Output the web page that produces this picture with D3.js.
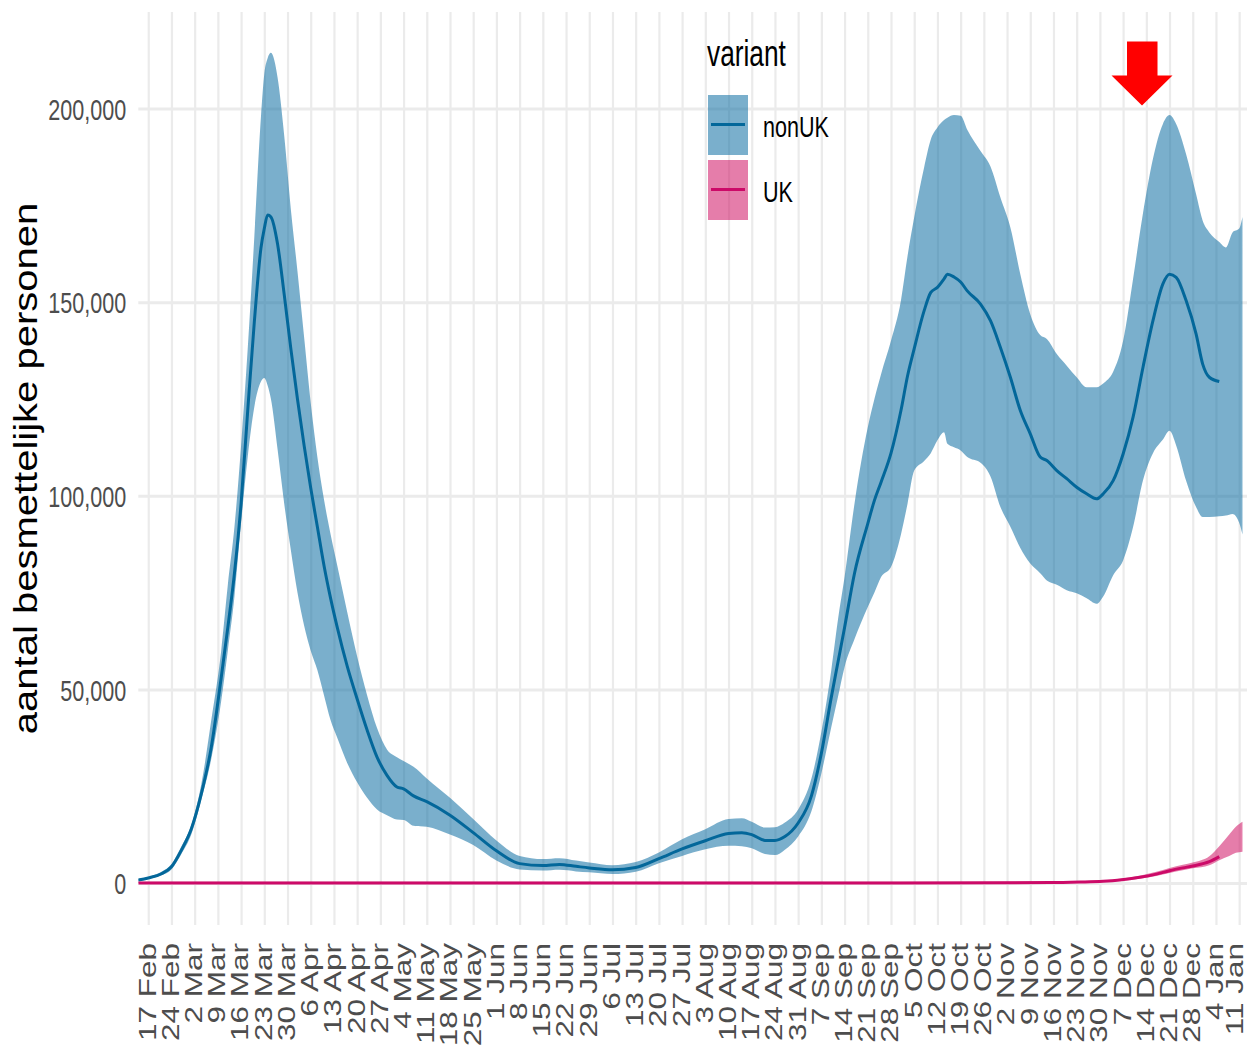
<!DOCTYPE html>
<html>
<head>
<meta charset="utf-8">
<script src="https://cdn.jsdelivr.net/npm/d3@7"></script>
<style>
    body { margin: 0; background: #fff; }
    svg { display: block; font-family: "Liberation Sans", Arial, sans-serif; }
</style>
</head>
<body>
<div id="chart"></div>
<script>
// nonUK variant: estimate (median) and band
let nonUKDates = ['2020-02-14', '2020-02-17', '2020-02-21', '2020-02-24', '2020-02-27', '2020-03-01', '2020-03-04',
    '2020-03-07', '2020-03-10', '2020-03-12', '2020-03-14', '2020-03-16', '2020-03-18', '2020-03-20', '2020-03-22',
    '2020-03-23', '2020-03-24', '2020-03-25', '2020-03-27', '2020-03-29', '2020-03-31', '2020-04-02', '2020-04-04',
    '2020-04-06', '2020-04-08', '2020-04-10', '2020-04-12', '2020-04-14', '2020-04-17', '2020-04-20', '2020-04-23',
    '2020-04-26', '2020-04-29', '2020-05-02', '2020-05-04', '2020-05-07', '2020-05-11', '2020-05-18', '2020-05-25',
    '2020-06-01', '2020-06-08', '2020-06-15', '2020-06-20', '2020-06-25', '2020-06-29', '2020-07-06', '2020-07-13',
    '2020-07-20', '2020-07-27', '2020-08-03', '2020-08-10', '2020-08-14', '2020-08-17', '2020-08-21', '2020-08-24',
    '2020-08-27', '2020-08-31', '2020-09-04', '2020-09-07', '2020-09-10', '2020-09-12', '2020-09-14', '2020-09-17',
    '2020-09-21', '2020-09-23', '2020-09-25', '2020-09-28', '2020-10-01', '2020-10-03', '2020-10-05', '2020-10-08',
    '2020-10-10', '2020-10-12', '2020-10-14', '2020-10-15', '2020-10-17', '2020-10-19', '2020-10-21', '2020-10-25',
    '2020-10-28', '2020-10-31', '2020-11-03', '2020-11-06', '2020-11-09', '2020-11-12', '2020-11-14', '2020-11-17',
    '2020-11-20', '2020-11-23', '2020-11-26', '2020-11-29', '2020-12-01', '2020-12-04', '2020-12-07', '2020-12-10',
    '2020-12-13', '2020-12-16', '2020-12-19', '2020-12-21', '2020-12-23', '2020-12-26', '2020-12-29', '2020-12-31',
    '2021-01-02', '2021-01-05', '2021-01-07', '2021-01-09', '2021-01-11', '2021-01-12'];
let nonUKMid = [750, 1300, 2400, 4200, 8500, 14000, 23000,
    35000, 53000, 66000, 80000, 98000, 122000, 145000, 164000,
    169000, 172500, 172000, 165000, 152000, 138000, 125000, 113000,
    102000, 92000, 82000, 73500, 66000, 56000, 47500, 39500,
    32500, 27800, 24800, 24300, 22500, 21000, 17500, 13000,
    8300, 5000, 4500, 4800, 4300, 3900, 3400, 4000,
    6300, 8800, 10900, 12800, 13000, 12500, 11000, 11000,
    12000, 15500, 22500, 33500, 48000, 57000, 66000, 80000,
    92800, 98800, 103500, 111000, 122000, 131000, 138000, 147800,
    152500, 153800, 156000, 157200, 156500, 155200, 152900, 149500,
    145200, 138300, 130600, 122000, 116000, 110000, 109100, 106500,
    104400, 102200, 100500, 99200, 100500, 103900, 110800, 120300,
    133200, 145200, 154700, 157200, 156400, 150400, 141800, 134000,
    130600, 129500, null, null, null, null];
let nonUKLow = [460, 1020, 2000, 3500, 7500, 12600, 21500,
    32000, 47000, 60000, 74000, 93000, 110000, 123000, 129500,
    130400, 128500, 125000, 112000, 98000, 86000, 75000, 66500,
    60000, 55000, 48500, 42000, 37500, 31000, 26000, 22000,
    19000, 17500, 16400, 16300, 14800, 14500, 12500, 9800,
    5800, 3500, 3200, 3400, 3000, 2750, 2300, 2900,
    5100, 7000, 8700, 9600, 9500, 9000, 7500, 7200,
    8600, 12000, 18500, 28300, 40300, 48000, 55800, 63000,
    71300, 75000, 79000, 81600, 90000, 98000, 106500, 109000,
    111000, 114300, 116400, 113400, 112500, 111700, 110000, 108500,
    105000, 97100, 92000, 86500, 82500, 80000, 78100, 77000,
    75600, 74800, 73500, 72100, 74000, 79500, 83300, 91900,
    104000, 111000, 114500, 116800, 113000, 103900, 97100, 94500,
    94500, 94700, 94900, 95300, 93000, 90000];
let nonUKHigh = [1030, 1580, 2900, 4900, 9500, 15000, 25500,
    42000, 60000, 77000, 92000, 113000, 138000, 167000, 198000,
    209000, 213000, 214400, 208000, 193000, 174000, 158000, 141000,
    124000, 110000, 99000, 90000, 82000, 70000, 58500, 48500,
    40000, 34500, 32500, 31500, 30000, 27000, 22000, 16500,
    11000, 7000, 6200, 6400, 5800, 5300, 4600, 5400,
    7900, 11300, 13900, 16500, 16700, 15800, 14300, 14400,
    15600, 19000, 27000, 39000, 55000, 68000, 79000, 98000,
    117700, 125000, 131400, 140000, 150400, 162000, 171900, 184800,
    192000, 195100, 197000, 197600, 198300, 198100, 194500, 189000,
    185000, 177000, 169300, 157200, 146900, 141500, 140500, 136600,
    133600, 130600, 128000, 128000, 129000, 132000, 140000, 156000,
    173000, 187000, 196000, 198300, 196000, 188200, 177900, 171000,
    168000, 165500, 164100, 168000, 169000, 172000];

// UK variant
let ukDates = ['2020-02-14', '2020-06-01', '2020-10-01', '2020-11-15', '2020-11-24', '2020-12-01', '2020-12-06',
    '2020-12-12', '2020-12-17', '2020-12-21', '2020-12-25', '2020-12-28', '2021-01-02', '2021-01-05', '2021-01-08',
    '2021-01-10', '2021-01-12'];
let ukMid = [0, 0, 0, 100, 250, 450, 770, 1460, 2300, 3170, 3900, 4400, 5500, 6800, null, null, null];
let ukLow = [0, 0, 0, 50, 150, 300, 550, 1100, 1800, 2600, 3300, 3800, 4600, 5900, 7000, 7800, 8100];
let ukHigh = [300, 300, 300, 400, 500, 700, 1100, 1900, 2900, 3900, 4700, 5300, 6900, 9500, 12500, 14500, 15800];

let yTicks = [0, 50000, 100000, 150000, 200000];
let weekStart = '2020-02-17', weekEnd = '2021-01-11';
let variants = ['nonUK', 'UK'];
let yTitle = 'aantal besmettelijke personen';
let legendTitle = 'variant';

let parse = d3.timeParse('%Y-%m-%d');
let colors = {nonUK: {fill: '#0d6ea2', line: '#03679a'}, UK: {fill: '#d01364', line: '#cc0a68'}};
let bandOpacity = 0.55;

function series(dates, mid, low, high) {
    return dates.map((d, i) => ({date: parse(d), mid: mid[i], low: low[i], high: high[i]}));
}
let data = {
    nonUK: series(nonUKDates, nonUKMid, nonUKLow, nonUKHigh),
    UK: series(ukDates, ukMid, ukLow, ukHigh)
};

let width = 1247, height = 1049;
let panel = {left: 138.3, right: 1247, top: 12, bottom: 925};

let svg = d3.select('#chart').append('svg')
    .attr('width', width)
    .attr('height', height);

let x = d3.scaleTime()
    .domain([parse('2020-02-14'), parse('2021-01-13')])
    .range([panel.left, 1245.8]);
let y = d3.scaleLinear()
    .domain([0, 200000])
    .range([883, 108.5]);

// weekly ticks, on Mondays
let weeks = d3.timeMonday.range(parse(weekStart), d3.timeDay.offset(parse(weekEnd), 1));

svg.append('clipPath').attr('id', 'panel-clip')
    .append('rect')
    .attr('x', panel.left).attr('y', panel.top)
    .attr('width', panel.right - panel.left).attr('height', panel.bottom - panel.top);

// grid lines
let gridY = svg.append('g')
    .attr('transform', `translate(${panel.left}, 0)`)
    .call(d3.axisRight(y).tickValues(yTicks).tickSize(panel.right - panel.left).tickFormat(''));
let gridX = svg.append('g')
    .attr('transform', `translate(0, ${panel.bottom})`)
    .call(d3.axisBottom(x).tickValues(weeks).tickSize(-(panel.bottom - panel.top)).tickFormat(''));
[gridX, gridY].forEach(g => {
    g.select('.domain').remove();
    g.selectAll('line').attr('stroke', '#ebebeb');
});
gridY.selectAll('line').attr('stroke-width', 3);
gridX.selectAll('line').attr('stroke-width', 2.2);

// bands and lines
let plot = svg.append('g').attr('clip-path', 'url(#panel-clip)');
let band = d3.area()
    .curve(d3.curveMonotoneX)
    .x(d => x(d.date))
    .y0(d => y(d.low))
    .y1(d => y(d.high));
let line = d3.line()
    .curve(d3.curveMonotoneX)
    .x(d => x(d.date))
    .y(d => y(d.mid));

variants.forEach(v => {
    plot.append('path')
        .attr('d', band(data[v]))
        .attr('fill', colors[v].fill)
        .attr('fill-opacity', bandOpacity);
});
variants.forEach(v => {
    plot.append('path')
        .attr('d', line(data[v].filter(d => d.mid != null)))
        .attr('fill', 'none')
        .attr('stroke', colors[v].line)
        .attr('stroke-width', 3);
});

// y axis labels
let yAxis = svg.append('g')
    .attr('transform', `translate(${panel.left}, 0)`)
    .call(d3.axisLeft(y).tickValues(yTicks).tickSize(0).tickFormat(d3.format(',')));
yAxis.select('.domain').remove();
yAxis.selectAll('text')
    .attr('x', 0).attr('dy', '0.36em')
    .attr('transform', 'translate(-12, 0) scale(0.72, 1)')
    .attr('text-anchor', 'end')
    .attr('fill', '#4d4d4d')
    .style('font-size', '30px')
    .style('font-family', '"Liberation Sans", Arial, sans-serif');

// x axis labels, rotated and hanging from the panel
let xAxis = svg.append('g')
    .attr('transform', `translate(0, ${panel.bottom})`)
    .call(d3.axisBottom(x).tickValues(weeks).tickSize(0).tickFormat(d3.timeFormat('%-d %b')));
xAxis.select('.domain').remove();
xAxis.selectAll('text')
    .attr('x', 0).attr('y', 0).attr('dy', '0.3em')
    // last label sits on the right edge, pull it in a little
    .attr('transform', (d, i) => `translate(${i == weeks.length - 1 ? -4 : 0}, 18) scale(0.73, 1) rotate(-90)`)
    .attr('text-anchor', 'end')
    .attr('fill', '#4d4d4d')
    .style('font-size', '31.5px')
    .style('font-family', '"Liberation Sans", Arial, sans-serif');

// y title
svg.append('text')
    .attr('transform', `translate(37, ${(panel.top + panel.bottom) / 2}) scale(0.85, 1) rotate(-90)`)
    .attr('text-anchor', 'middle')
    .style('font-size', '40px')
    .text(yTitle);

// legend
let legend = svg.append('g').attr('transform', 'translate(707, 0)');
legend.append('text')
    .attr('transform', 'translate(0, 66) scale(0.73, 1)')
    .style('font-size', '36px')
    .text(legendTitle);
let keys = legend.selectAll('g.key')
    .data(variants)
    .enter().append('g')
    .attr('class', 'key')
    .attr('transform', (d, i) => `translate(0, ${95 + i * 65})`);
keys.append('rect')
    .attr('x', 1).attr('width', 40).attr('height', 60)
    .attr('fill', d => colors[d].fill)
    .attr('fill-opacity', bandOpacity);
keys.append('line')
    .attr('x1', 4).attr('x2', 38).attr('y1', 29.5).attr('y2', 29.5)
    .attr('stroke', d => colors[d].line)
    .attr('stroke-width', 3);
keys.append('text')
    .attr('transform', 'translate(56, 41.5) scale(0.73, 1)')
    .style('font-size', '29.5px')
    .text(d => d);

// red arrow pointing at the December peak
let tipX = x(parse('2020-12-13')) - 1, tipY = y(200800);
let arrow = [[-15, -64], [15.5, -64], [15.5, -30], [30.5, -30], [0, 0], [-30.5, -30], [-15, -30]];
svg.append('polygon')
    .attr('points', arrow.map(p => [tipX + p[0], tipY + p[1]].join(',')).join(' '))
    .attr('fill', '#ff0000');
</script>
</body>
</html>
